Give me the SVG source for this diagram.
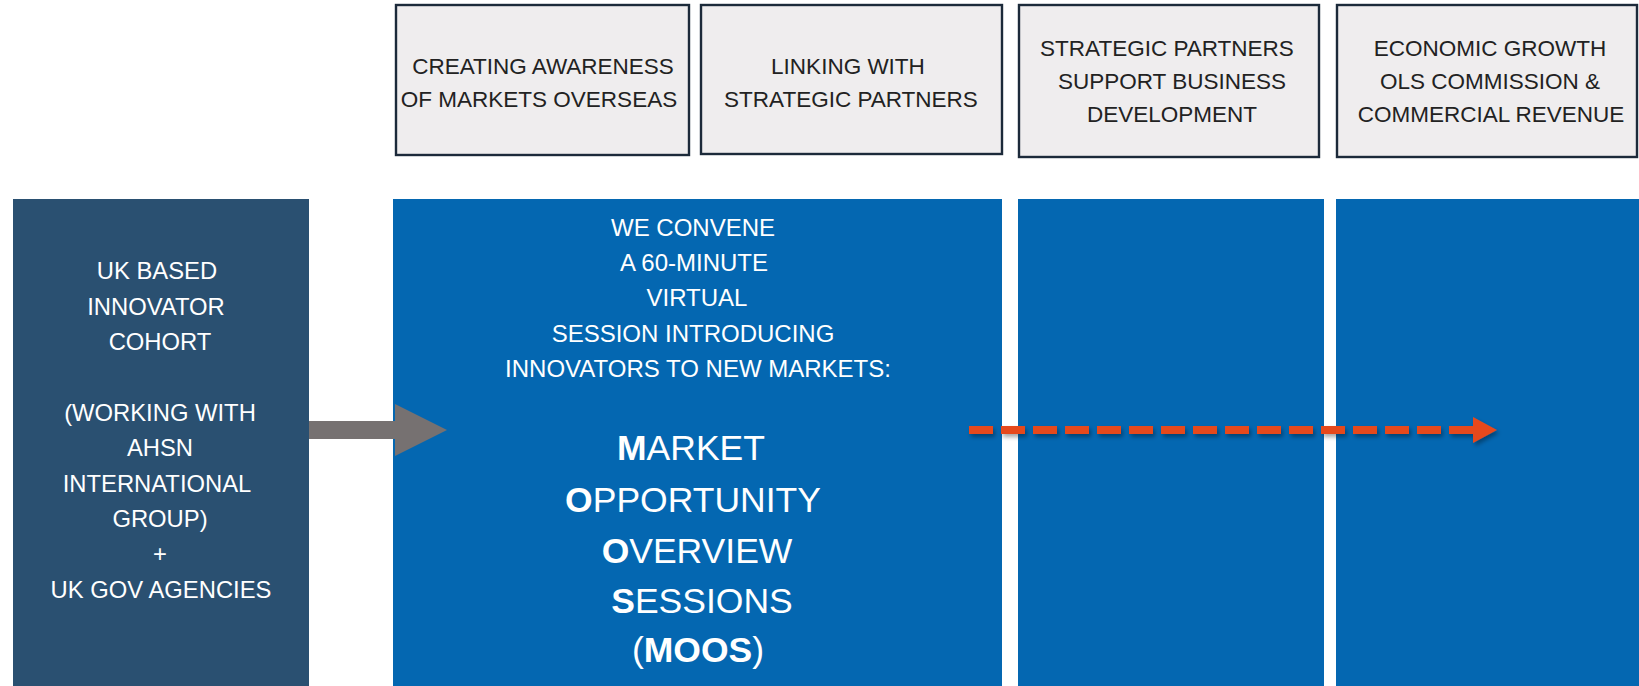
<svg xmlns="http://www.w3.org/2000/svg" width="1639" height="686" viewBox="0 0 1639 686">
<style>
.top rect{fill:#efedee;stroke:#1c2a3a;stroke-width:2.4}
.top text{font-family:"Liberation Sans",Arial,sans-serif;font-size:22.5px;fill:#222;text-anchor:middle}
.wt{font-family:"Liberation Sans",Arial,sans-serif;fill:#fff;text-anchor:middle}
.s24{font-size:24px}
.s23{font-size:23.8px}
.big{font-size:35.5px}
.b{font-weight:bold}
</style>
<defs>
<filter id="sh" x="-5%" y="-100%" width="110%" height="300%">
<feDropShadow dx="2" dy="3" stdDeviation="2" flood-color="#000" flood-opacity="0.35"/>
</filter>
</defs>
<rect width="1639" height="686" fill="#fff"/>

<g id="stage1" class="top">
<rect x="396" y="5" width="293" height="150"/>
<text x="543" y="74">CREATING AWARENESS</text>
<text x="539" y="107">OF MARKETS OVERSEAS</text>
</g>
<g id="stage2" class="top">
<rect x="701" y="5" width="301" height="149"/>
<text x="848" y="74">LINKING WITH</text>
<text x="851" y="107">STRATEGIC PARTNERS</text>
</g>
<g id="stage3" class="top">
<rect x="1019" y="5" width="300" height="152"/>
<text x="1167" y="56">STRATEGIC PARTNERS</text>
<text x="1172" y="89">SUPPORT BUSINESS</text>
<text x="1172" y="122">DEVELOPMENT</text>
</g>
<g id="stage4" class="top">
<rect x="1337" y="5" width="300" height="152"/>
<text x="1490" y="56">ECONOMIC GROWTH</text>
<text x="1490" y="89">OLS COMMISSION &amp;</text>
<text x="1491" y="122">COMMERCIAL REVENUE</text>
</g>

<g id="cohort">
<rect x="13" y="199" width="296" height="487" fill="#2a5071"/>
<g class="wt s23">
<text x="157" y="279">UK BASED</text>
<text x="156" y="314.5">INNOVATOR</text>
<text x="160" y="350">COHORT</text>
<text x="160" y="421">(WORKING WITH</text>
<text x="160" y="456">AHSN</text>
<text x="157" y="491.5">INTERNATIONAL</text>
<text x="160" y="527">GROUP)</text>
<text x="160" y="562">+</text>
<text x="161" y="597.5">UK GOV AGENCIES</text>
</g>
</g>

<g id="moos">
<rect x="393" y="199" width="609" height="487" fill="#0467b1"/>
<g class="wt s24">
<text x="693" y="235.7">WE CONVENE</text>
<text x="694" y="271">A 60-MINUTE</text>
<text x="697" y="306">VIRTUAL</text>
<text x="693" y="341.7">SESSION INTRODUCING</text>
<text x="698" y="376.7">INNOVATORS TO NEW MARKETS:</text>
</g>
<g class="wt big">
<text x="691" y="460"><tspan class="b">M</tspan>ARKET</text>
<text x="693" y="511.7"><tspan class="b">O</tspan>PPORTUNITY</text>
<text x="697" y="562.7"><tspan class="b">O</tspan>VERVIEW</text>
<text x="702" y="613.3"><tspan class="b">S</tspan>ESSIONS</text>
<text x="698" y="661.7">(<tspan class="b">MOOS</tspan>)</text>
</g>
</g>

<g id="partners">
<rect x="1018" y="199" width="306" height="487" fill="#0467b1"/>
</g>
<g id="growth">
<rect x="1336" y="199" width="303" height="487" fill="#0467b1"/>
</g>

<g id="connectors">
<polygon points="309,421 395,421 395,404 447,430 395,456 395,439 309,439" fill="#767171"/>
<g filter="url(#sh)">
<line x1="969" y1="430" x2="1473" y2="430" stroke="#e64a1f" stroke-width="8" stroke-dasharray="24 8"/>
<polygon points="1473,417 1497,430 1473,443" fill="#e64a1f"/>
</g>
</g>
</svg>
